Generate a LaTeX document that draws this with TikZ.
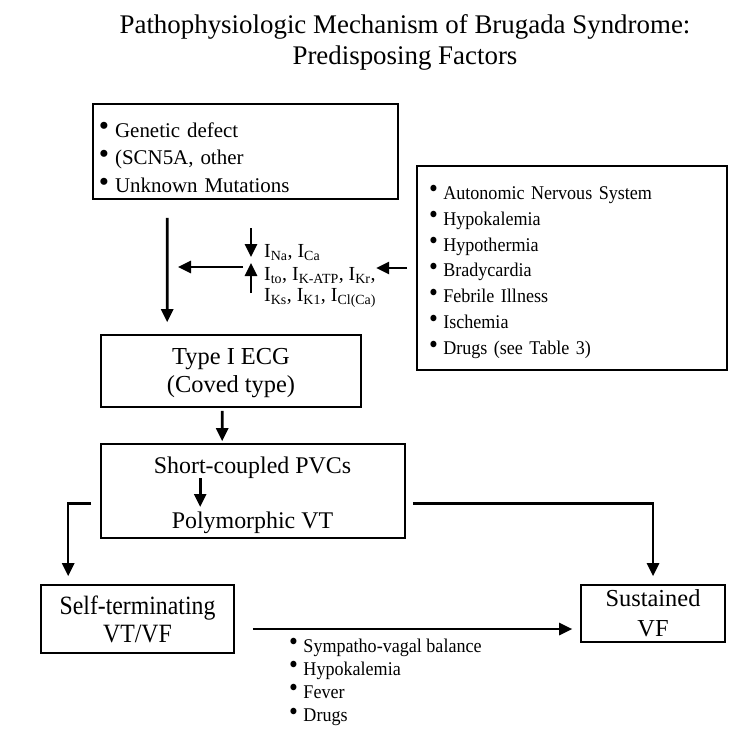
\documentclass[tikz,border=0pt]{standalone}
\usepackage{fontspec}
\usepackage{graphicx}
\setmainfont{Liberation Serif}
\newfontfamily\condA{Liberation Serif}[FakeStretch=0.9]
\newfontfamily\condB{Liberation Serif}[FakeStretch=0.93]
\usetikzlibrary{arrows.meta,calc}
\newcommand\bul{\raisebox{0.08em}{\scalebox{1.4}{\textbullet}}\hspace{0.28em}}
\begin{document}
\begin{tikzpicture}[x=1bp,y=-1bp,
  box/.style={draw, line width=1.6bp, inner sep=0pt},
  arr/.style={line width=2.6bp, -{Triangle[length=13bp,width=12bp]}},
  lbl/.style={anchor=base west, inner sep=0pt, font=\fontsize{20}{24}\selectfont},
  big/.style={font=\fontsize{24}{28}\selectfont},
]
\useasboundingbox (0,0) rectangle (750,733);
\fill[white] (0,0) rectangle (750,733);

% title
\node[align=center, inner sep=0pt, font=\fontsize{27}{31}\selectfont] (title) at (405,42)
  {Pathophysiologic Mechanism of Brugada Syndrome:\\Predisposing Factors};

% boxes
\node[box, minimum width=305bp, minimum height=95bp, text width=293bp, align=left,
  font=\fontsize{21}{28}\selectfont] (gen) at (245.5,151.5)
  {\rule{0pt}{27bp}\bul Genetic defect\\ \bul (SCN5A, other\\ \bul Unknown Mutations};

\node[box, minimum width=310bp, minimum height=204bp, text width=286bp, align=left,
  font=\condB\fontsize{19.5}{26}\selectfont] (rb) at (572,268)
  {\rule{0pt}{22bp}\bul Autonomic Nervous System\\ \bul Hypokalemia\\ \bul Hypothermia\\
   \bul Bradycardia\\ \bul Febrile Illness\\ \bul Ischemia\\ \bul Drugs (see Table 3)};

\node[box, minimum width=260bp, minimum height=72bp, align=center,
  font=\fontsize{24.5}{28}\selectfont] (ecg) at (231,371)
  {\rule{0pt}{21bp}Type I ECG\\(Coved type)};

\node[box, minimum width=304bp, minimum height=94bp] (pvcbox) at (253,491) {};
\node[big, anchor=base] (pvc) at (252.5,473) {Short-coupled PVCs};
\node[big, anchor=base] (poly) at (252.5,528) {Polymorphic VT};

\node[box, minimum width=193bp, minimum height=68bp, align=center,
  font=\condA\fontsize{26.5}{28}\selectfont] (self) at (137.5,619) {Self-terminating\\VT/VF};
\node[box, minimum width=144bp, minimum height=57bp, align=center,
  font=\fontsize{24.5}{30}\selectfont] (sus) at (653,613.5) {Sustained\\VF};

\node[anchor=north west, inner sep=0pt, align=left, font=\condB\fontsize{19.5}{23.3}\selectfont]
  (bl) at (289,638)
  {\bul Sympatho-vagal balance\\ \bul Hypokalemia\\ \bul Fever\\ \bul Drugs};

% current labels
\node[lbl] (c1) at (264,257) {I\textsubscript{Na}, I\textsubscript{Ca}};
\node[lbl] (c2) at (264,280) {I\textsubscript{to}, I\textsubscript{K-ATP}, I\textsubscript{Kr},};
\node[lbl] (c3) at (264,301) {I\textsubscript{Ks}, I\textsubscript{K1}, I\textsubscript{Cl(Ca)}};

% small arrows beside currents
\coordinate (dA) at (251,228);
\coordinate (dB) at (251,257);
\coordinate (uA) at (251,293);
\coordinate (uB) at (251,263);
\draw[arr] (dA) -- (dB);
\draw[arr] (uA) -- (uB);

% horizontal arrows in the middle
\coordinate (lA) at (243,267);
\coordinate (lB) at (178,267);
\draw[arr] (lA) -- (lB);
\draw[arr, shorten <=9bp] (rb.west) -- ++(-40,0);

% main flow
\draw[arr, shorten <=18bp, shorten >=12bp] ($(gen.south west)+(75,0)$) -- ($(ecg.north west)+(67,0)$);
\draw[arr, shorten <=3bp, shorten >=2bp] ($(ecg.south west)+(122,0)$) -- ($(pvcbox.north west)+(122,0)$);
\coordinate (pin) at ($(pvcbox.west)+(100,0)$);
\draw[arr] ($(pvc.base -| pin)+(0,5)$) -- ($(poly.base -| pin)+(0,-21)$);

\coordinate (ls) at ($(pvcbox.north west)+(-9,60)$);
\coordinate (rs) at ($(pvcbox.north east)+(7,60)$);
\draw[arr, shorten >=8bp] (ls) -| ($(self.north west)+(28,0)$);
\draw[arr, shorten >=8bp] (rs) -| (sus.north);
\coordinate (sa) at ($(self.east)+(0,10)$);
\draw[arr, shorten <=18bp, shorten >=8bp] (sa) -- (sa -| sus.west);
\end{tikzpicture}
\end{document}
